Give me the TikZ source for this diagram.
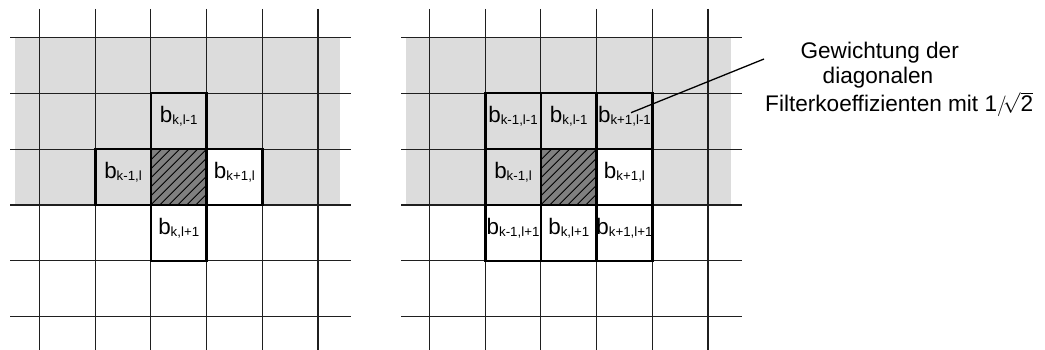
\documentclass[tikz,border=0pt]{standalone}
\usepackage{fontspec}
\setmainfont{Liberation Sans}
\definecolor{band}{RGB}{220,220,220}
\definecolor{hatchgray}{RGB}{128,128,128}
\newcommand\sbs[1]{\raisebox{-1.5pt}{\fontsize{13.3}{13.3}\selectfont #1}}
\newcommand\blab[1]{b\sbs{#1}}
\begin{document}
\begin{tikzpicture}[x=1pt,y=-1pt,
  gridline/.style={line width=1.1pt,draw=black!88},
  cellbox/.style={draw=black,line width=2.6pt,minimum width=55.7pt,minimum height=55.9pt,inner sep=0pt,outer sep=0pt},
  celltext/.style={anchor=base,inner sep=0pt,font=\fontsize{22.4}{26}\selectfont},
  note/.style={inner sep=0pt,font=\fontsize{22.6}{26}\selectfont},
  hatched/.style={fill=hatchgray,path picture={
     \foreach \d in {-63,-54,...,63}{\draw[line width=0.9pt,black] ([shift={(\d-40,40)}]path picture bounding box.center) -- ++(80,-80);}}},
  leader/.style={line width=1.3pt,draw=black}]
\useasboundingbox (0,0) rectangle (1045,350);
% gray bands
\fill[band] (15,37.3) rectangle (340,204.3);
\fill[band] (406,37.3) rectangle (731,204.3);
% grids
\foreach \i in {0,...,5} {
  \draw[gridline] ({39.5+\i*55.7},9) -- ({39.5+\i*55.7},350);
  \draw[gridline] ({429.5+\i*55.7},9) -- ({429.5+\i*55.7},350);
  \draw[gridline] (10,{37.3+\i*55.9}) -- (351,{37.3+\i*55.9});
  \draw[gridline] (401,{37.3+\i*55.9}) -- (742,{37.3+\i*55.9});
}
% left: 4-neighbourhood
\node[cellbox,fill=band]  (La) at (178.75,121.15) {};
\node[cellbox,fill=band]  (Lb) at (123.05,177.05) {};
\node[cellbox,hatched]    (Lc) at (178.75,177.05) {};
\node[cellbox,fill=white] (Ld) at (234.45,177.05) {};
\node[cellbox,fill=white] (Le) at (178.75,232.95) {};
\node[celltext] (tLa) at ([yshift=-1.8pt]La.center) {\blab{k,l-1}};
\node[celltext] (tLb) at ([yshift=-1.8pt]Lb.center) {\blab{k-1,l}};
\node[celltext] (tLd) at ([yshift=-1.8pt]Ld.center) {\blab{k+1,l}};
\node[celltext] (tLe) at ([yshift=-1.8pt]Le.center) {\blab{k,l+1}};
% right: 8-neighbourhood
\node[cellbox,fill=band]  (R11) at (513.05,121.15) {};
\node[cellbox,fill=band]  (R21) at (568.75,121.15) {};
\node[cellbox,fill=band]  (R31) at (624.45,121.15) {};
\node[cellbox,fill=band]  (R12) at (513.05,177.05) {};
\node[cellbox,hatched]    (R22) at (568.75,177.05) {};
\node[cellbox,fill=white] (R32) at (624.45,177.05) {};
\node[cellbox,fill=white] (R13) at (513.05,232.95) {};
\node[cellbox,fill=white] (R23) at (568.75,232.95) {};
\node[cellbox,fill=white] (R33) at (624.45,232.95) {};
\node[celltext] (tR11) at ([yshift=-1.8pt]R11.center) {\blab{k-1,l-1}};
\node[celltext] (tR21) at ([yshift=-1.8pt]R21.center) {\blab{k,l-1}};
\node[celltext] (tR31) at ([yshift=-1.8pt]R31.center) {\blab{k+1,l-1}};
\node[celltext] (tR12) at ([yshift=-1.8pt]R12.center) {\blab{k-1,l}};
\node[celltext] (tR32) at ([yshift=-1.8pt]R32.center) {\blab{k+1,l}};
\node[celltext] (tR13) at ([yshift=-1.8pt]R13.center) {\blab{k-1,l+1}};
\node[celltext] (tR23) at ([yshift=-1.8pt]R23.center) {\blab{k,l+1}};
\node[celltext] (tR33) at ([yshift=-1.8pt]R33.center) {\blab{k+1,l+1}};
% annotation
\node[note,anchor=base] (n1) at (879.7,59) {Gewichtung der};
\node[note,anchor=base] (n2) at (878,84) {diagonalen};
\node[note,anchor=base west] (n3) at (765,111.7) {Filterkoeffizienten mit $\mbox{1}\big/\!\sqrt{\mbox{2}}$};
\coordinate (lp) at (631,112.7);
\coordinate (lq) at (764,59);
\draw[leader] (lp) -- (lq);
\end{tikzpicture}
\end{document}
